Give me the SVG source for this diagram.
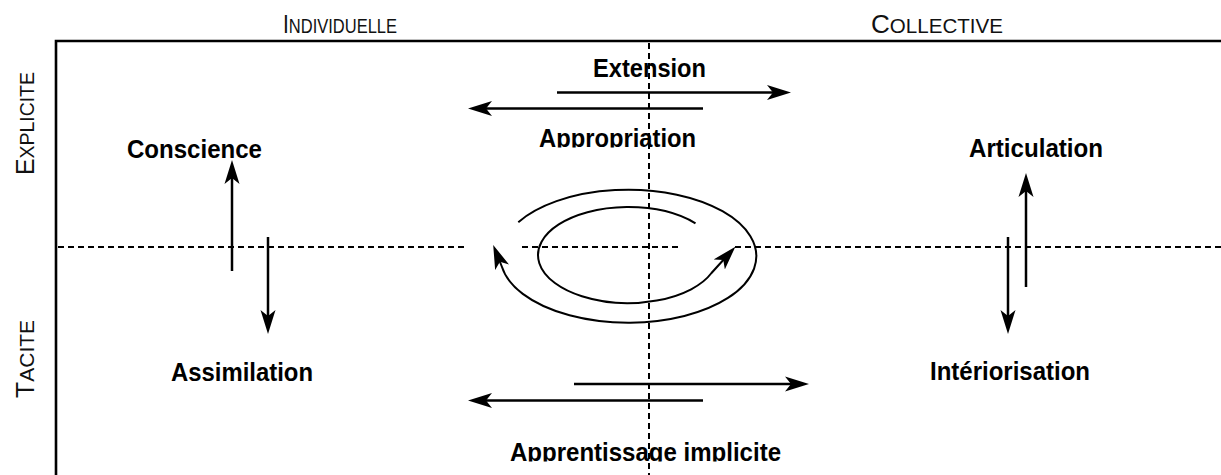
<svg xmlns="http://www.w3.org/2000/svg" width="1221" height="475" viewBox="0 0 1221 475">
<style>
.lbl{font-family:"Liberation Sans",Arial,sans-serif;font-weight:bold;font-size:25.5px;fill:#000}
.cap{font-family:"Liberation Sans Narrow","Liberation Sans",Arial,sans-serif;font-size:26px;fill:#111}
.sc{font-size:20.5px}
.axis{stroke:#000;stroke-width:2.6;fill:none}
.dash{stroke:#000;stroke-width:2;stroke-dasharray:6 4;fill:none}
.arr{stroke:#000;stroke-width:2.5;fill:none;marker-end:url(#ah)}
.arc{stroke:#000;stroke-width:2;fill:none}
</style>
<defs>
<marker id="ah" viewBox="0 -8 24 16" refX="10" refY="0" markerWidth="24" markerHeight="16" markerUnits="userSpaceOnUse" orient="auto">
<path d="M24,0 L0,-7.5 L6,0 L0,7.5 Z" fill="#000"/>
</marker>
<clipPath id="c1"><rect x="520" y="100" width="200" height="47.5"/></clipPath>
<clipPath id="c2"><rect x="900" y="340" width="220" height="40"/></clipPath>
<clipPath id="c3"><rect x="490" y="420" width="310" height="41.5"/></clipPath>
</defs>
<rect width="1221" height="475" fill="#fff"/>

<g id="axes">
<path class="axis" d="M56,475 V41 H1221"/>
<text class="cap" x="283" y="33" textLength="114" lengthAdjust="spacingAndGlyphs">I<tspan class="sc">NDIVIDUELLE</tspan></text>
<text class="cap" x="871" y="33" textLength="132" lengthAdjust="spacingAndGlyphs">C<tspan class="sc">OLLECTIVE</tspan></text>
<text class="cap" transform="translate(34,175) rotate(-90)" x="0" y="0" textLength="103" lengthAdjust="spacingAndGlyphs">E<tspan class="sc">XPLICITE</tspan></text>
<text class="cap" transform="translate(34,398) rotate(-90)" x="0" y="0" textLength="78" lengthAdjust="spacingAndGlyphs">T<tspan class="sc">ACITE</tspan></text>
</g>

<g id="node-extension"><text class="lbl" x="593" y="77" textLength="113" lengthAdjust="spacingAndGlyphs">Extension</text></g>
<g id="node-appropriation"><text class="lbl" x="539" y="146.5" textLength="157" lengthAdjust="spacingAndGlyphs" clip-path="url(#c1)">Appropriation</text></g>
<g id="node-conscience"><text class="lbl" x="127" y="158" textLength="135" lengthAdjust="spacingAndGlyphs">Conscience</text></g>
<g id="node-articulation"><text class="lbl" x="969" y="157" textLength="134" lengthAdjust="spacingAndGlyphs">Articulation</text></g>
<g id="node-assimilation"><text class="lbl" x="171" y="381" textLength="142" lengthAdjust="spacingAndGlyphs">Assimilation</text></g>
<g id="node-interiorisation"><text class="lbl" x="930" y="379.5" textLength="160" lengthAdjust="spacingAndGlyphs" clip-path="url(#c2)">Intériorisation</text></g>
<g id="node-apprentissage"><text class="lbl" x="510" y="461" textLength="271" lengthAdjust="spacingAndGlyphs" clip-path="url(#c3)">Apprentissage implicite</text></g>

<g id="connectors">
<path class="dash" d="M58,247 H467 M522,247 H682 M735,247 H1221"/>
<path class="dash" d="M649,43 V475"/>
<line class="arr" x1="557" y1="92.5" x2="777" y2="92.5"/>
<line class="arr" x1="703" y1="108.5" x2="482" y2="108.5"/>
<line class="arr" x1="574" y1="384" x2="795" y2="384"/>
<line class="arr" x1="703" y1="400.5" x2="482" y2="400.5"/>
<line class="arr" x1="232" y1="271" x2="232" y2="174"/>
<line class="arr" x1="268" y1="237" x2="268" y2="320"/>
<line class="arr" x1="1026" y1="287" x2="1026" y2="187"/>
<line class="arr" x1="1008" y1="237" x2="1008" y2="320"/>
<path class="arc" style="marker-end:url(#ah)" d="M518.3,222.2 A128,66.5 0 1 1 502,267 L498.4,258"/>
<path class="arc" style="marker-end:url(#ah)" d="M695.5,223.3 A90,48 0 1 0 711.5,273 L726,257"/>
</g>
</svg>
